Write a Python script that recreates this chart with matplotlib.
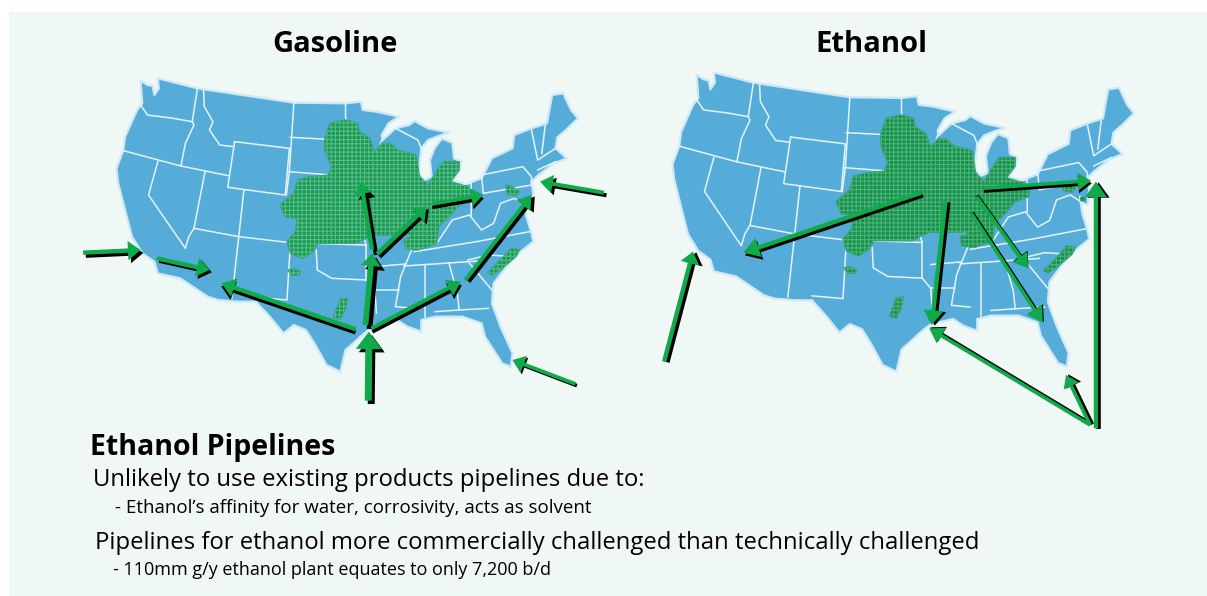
import numpy as np
import matplotlib
matplotlib.use('Agg')
import matplotlib.pyplot as plt
from matplotlib.patches import Polygon, Rectangle

plt.rcParams['font.family'] = ['Open Sans', 'DejaVu Sans']
plt.rcParams['hatch.linewidth'] = 0.8

us_outline = [(205,62),(225,75),(240,78),(245,105),(258,85),(255,55),(370,85),(500,105),(650,128),(800,130),
    (845,125),(850,150),(890,155),(955,170),(925,190),(905,225),(908,240),(945,205),(985,195),(1000,183),(1040,205),
    (1100,218),(1070,228),(1040,240),(1020,265),(1012,340),(1030,360),(1050,350),(1045,300),(1060,262),
    (1080,236),(1110,248),(1115,295),(1137,305),(1130,335),(1110,362),(1150,372),(1195,355),(1225,295),(1285,265),
    (1290,225),(1340,205),(1385,190),(1400,105),(1432,100),(1455,150),(1475,175),(1440,210),(1415,232),(1410,265),(1442,295),(1405,310),
    (1360,345),(1340,365),(1345,400),(1340,445),(1325,440),(1318,420),(1325,470),(1340,520),(1345,545),(1290,590),
    (1230,670),(1225,730),(1250,800),(1285,880),(1280,920),(1255,910),(1205,830),(1195,790),(1140,770),(1060,770),
    (1020,780),(1020,815),(980,800),(950,780),(885,795),(860,815),(800,870),(785,935),(745,915),(710,850),(685,810),
    (650,795),(620,820),(580,770),(540,725),(490,725),(430,720),(400,710),(320,655),(255,640),(245,605),(210,580),
    (180,530),(165,470),(140,370),(135,325),(155,270),(160,230),(195,150),(210,130)]

state_lines = [
    [(205,135),(225,165),(300,175),(355,185)],
    [(370,85),(355,185),(360,195),(335,250),(322,318)],
    [(155,272),(322,318),(460,347)],
    [(388,92),(390,140),(415,185),(405,210),(435,255),(475,260)],
    [(478,245),(637,265),(625,405),(458,382),(478,245)],
    [(650,128),(637,335),(628,405)],
    [(640,232),(790,240)],
    [(635,335),(760,345)],
    [(505,390),(490,530)],
    [(392,335),(360,505),(490,530),(640,548),(860,555)],
    [(255,305),(228,405),(335,565),(345,530),(360,505)],
    [(490,530),(470,715)],
    [(640,548),(630,720),(540,712)],
    [(715,570),(718,630),(760,655),(860,660),(885,690)],
    [(860,555),(860,660)],
    [(885,690),(890,760)],
    [(885,690),(955,690)],
    [(885,620),(975,612)],
    [(1000,550),(975,612),(960,650),(945,740),(1000,745)],
    [(1030,615),(1030,770)],
    [(1100,608),(1125,700),(1130,750),(1215,745)],
    [(1060,755),(1130,750)],
    [(1000,575),(1180,545),(1335,515)],
    [(970,618),(1200,602)],
    [(1155,600),(1215,585),(1290,590)],
    [(1160,610),(1225,690)],
    [(1065,550),(1110,480),(1160,465),(1195,510),(1230,490),(1250,430),(1290,415),(1335,445)],
    [(1195,345),(1315,320),(1340,350),(1340,375),(1200,400),(1195,345)],
    [(1340,210),(1358,300),(1410,265)],
    [(1380,195),(1370,280)],
    [(1358,330),(1410,305)],
    [(800,130),(800,170),(815,270),(825,370),(830,445)],
    [(815,285),(940,285),(960,350)],
    [(825,370),(960,350),(965,400),(935,460),(1000,550)],
    [(628,445),(830,445),(860,555)],
    [(1030,385),(1030,540)],
    [(1030,385),(1165,370),(1165,465)],
    [(905,240),(895,270),(940,285)],
    [(945,205),(1010,240),(1020,265)],
]

corn_belt = [(755,190),(800,180),(835,190),(840,215),(870,235),(885,275),(905,250),(930,250),(950,270),(1005,285),
    (1015,350),(1040,375),(1070,325),(1085,305),(1130,305),(1130,330),(1105,365),(1155,380),(1170,400),(1170,420),
    (1130,435),(1105,465),(1070,500),(1065,550),(1010,570),(975,565),(970,540),(995,525),(880,525),(830,550),
    (720,550),(705,575),(675,595),(640,580),(630,545),(655,515),(660,475),(625,470),(610,435),(650,400),(660,360),
    (700,350),(750,345),(760,320),(740,270),(740,235)]
blob_nm = [(632,630),(650,627),(670,635),(665,645),(645,646)]
blob_tx = [(785,718),(805,715),(800,745),(785,778),(765,772),(775,745)]
blob_nc = [(1280,565),(1305,570),(1295,590),(1260,620),(1225,645),(1213,638),(1250,600)]
blob_pa = [(1265,375),(1280,378),(1305,395),(1295,407),(1270,403)]
blob_md = [(1318,422),(1332,420),(1334,432),(1320,435)]

# tail x, tail y, tip x, tip y, shaft, head width, head length, shadow dx, shadow dy
gas_arrows = [
    (38,578,205,570,13,58,38,8,9),
    (252,595,405,630,13,58,38,7,7),
    (830,808,440,670,13,58,40,-1,9),
    (858,795,877,580,17,60,38,12,12),
    (877,570,845,365,13,50,36,12,15),
    (892,582,1035,440,14,58,36,7,8),
    (1050,432,1200,405,11,54,36,2,10),
    (875,805,1135,665,12,54,40,3,10),
    (1148,660,1340,405,12,54,40,10,5),
    (1550,398,1365,365,12,54,38,8,8),
    (1468,972,1285,900,11,54,36,4,5),
    (866,1022,868,815,21,78,52,9,10),
]
eth_arrows = [
    (875,398,358,578,13,60,48,5,8),
    (945,425,905,795,13,60,44,9,2),
    (1020,460,1228,788,11,54,46,3,-2),
    (1035,410,1185,625,12,54,42,1,-3),
    (1055,385,1368,362,11,54,40,2,8),
    (1382,1105,1382,365,13,66,46,8,2),
    (1365,1095,898,805,11,54,42,3,-3),
    (1365,1095,1295,945,11,50,36,7,-2),
    (128,905,212,575,13,58,36,10,2),
]

text_lines = [
    (90, 448, 'Ethanol Pipelines', 20.5, 'bold'),
    (93, 480, 'Unlikely to use existing products pipelines due to:', 17.2, 'normal'),
    (115, 508, '- Ethanol\u2019s affinity for water, corrosivity, acts as solvent', 13.5, 'normal'),
    (95, 543, 'Pipelines for ethanol more commercially challenged than technically challenged', 17.2, 'normal'),
    (113, 570, '- 110mm g/y ethanol plant equates to only 7,200 b/d', 13.0, 'normal'),
]

BG = '#f0f8f5'
BLUE = '#55acd8'
XS = 540 / 1568


def to_left(pts):
    a = np.array(pts, dtype=float)
    return np.c_[70 + a[:, 0] * XS, 60 + a[:, 1] / 3]


def to_right(pts):
    # the right map sits 556 px over and is slightly taller
    a = to_left(pts)
    return np.c_[a[:, 0] + 556, 372 - (372 - a[:, 1]) * 1.02]


def crop_pts(pts, x0):
    a = np.array(pts, dtype=float)
    return np.c_[x0 + a[:, 0] * XS, 60 + a[:, 1] / 3]


def draw_map(ax, conv, hatch_col, fill_col):
    ax.add_patch(Polygon(conv(us_outline), closed=True, fc=BLUE, ec='#cde8f6', lw=1.6, joinstyle='round', zorder=2))
    for line in state_lines:
        xy = conv(line)
        ax.plot(xy[:, 0], xy[:, 1], color='#e4f3fa', lw=1.1, zorder=3, solid_joinstyle='round')
    for blob in [corn_belt, blob_nm, blob_tx, blob_nc, blob_pa]:
        ax.add_patch(Polygon(conv(blob), closed=True, fc=fill_col, ec='#35a070', lw=1.0, alpha=0.94,
                             joinstyle='round', zorder=4))
        ax.add_patch(Polygon(conv(blob), closed=True, fc='none', ec=hatch_col, lw=0, hatch='++++', zorder=5))


def draw_arrows(ax, arrows, x0):
    for dark in [True, False]:
        for x1, y1, x2, y2, w, hw, hl, sx, sy in arrows:
            p = crop_pts([(x1, y1), (x2, y2)], x0)
            ox, oy = (sx / 3, sy / 3) if dark else (0, 0)
            ax.arrow(p[0, 0] + ox, p[0, 1] + oy, p[1, 0] - p[0, 0], p[1, 1] - p[0, 1],
                     width=w / 3, head_width=hw / 3, head_length=hl / 3, length_includes_head=True,
                     fc='black' if dark else '#10aa4a', ec='none', zorder=6 if dark else 7)


fig = plt.figure(figsize=(12.07, 5.96), dpi=100, facecolor='white')
ax = fig.add_axes([0, 0, 1, 1])
ax.set_xlim(0, 1207)
ax.set_ylim(596, 0)
ax.axis('off')

ax.add_patch(Rectangle((9, 12), 1198, 584, fc=BG, ec='none', zorder=1))

draw_map(ax, to_left, '#5ab98a', '#0f9a48')
draw_map(ax, to_right, '#50b07a', '#0d9242')
draw_arrows(ax, gas_arrows, 70)
draw_arrows(ax, eth_arrows, 620)

right_md = to_right(blob_md)
ax.add_patch(Polygon(right_md, closed=True, fc='#169a50', ec='none', zorder=5))

ax.text(335, 44, 'Gasoline', fontsize=21, fontweight='bold', ha='center', va='center', color='black', zorder=8)
ax.text(871, 44, 'Ethanol', fontsize=21, fontweight='bold', ha='center', va='center', color='black', zorder=8)

for x, y, s, size, weight in text_lines:
    ax.text(x, y, s, fontsize=size, fontweight=weight, ha='left', va='center', color='black', zorder=8)

fig.savefig('out.png', dpi=100, facecolor='white')
